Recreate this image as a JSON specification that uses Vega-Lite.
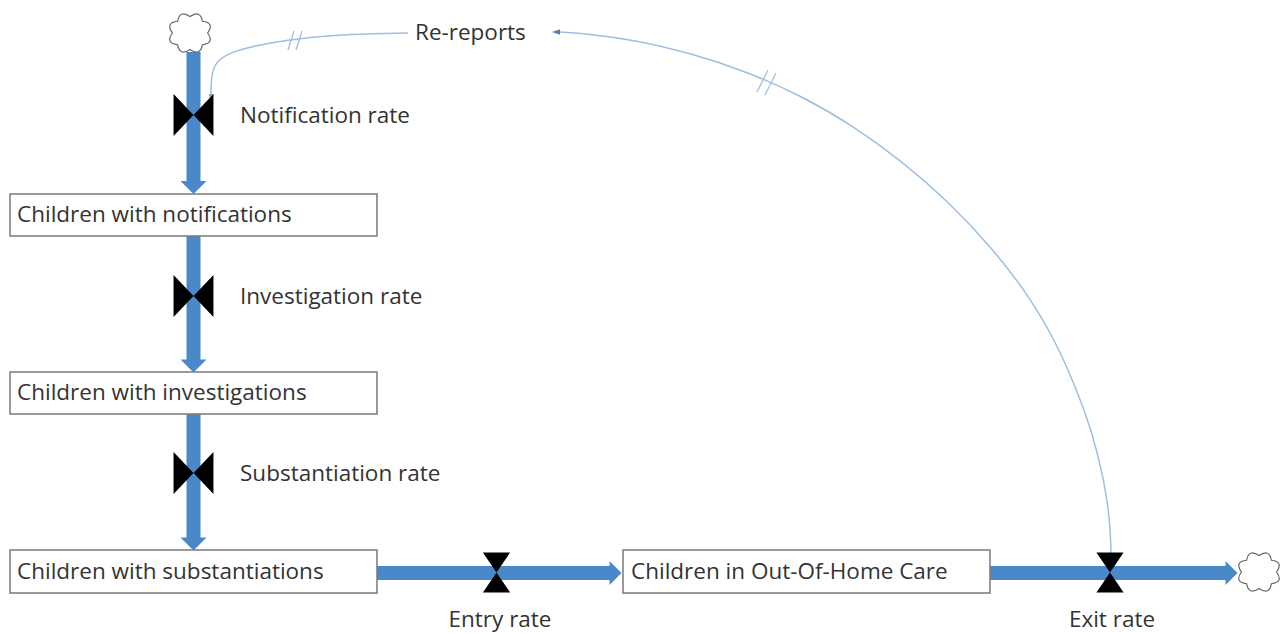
{
  "$schema": "https://vega.github.io/schema/vega-lite/v6.json",
  "width": 1287,
  "height": 633,
  "autosize": {"type": "fit", "contains": "padding"},
  "padding": 0,
  "background": "white",
  "config": {"view": {"stroke": null}},
  "datasets": {
    "boxes": [
      {"name": "Children with notifications", "x": 10, "x2": 377, "y": 194, "y2": 236},
      {"name": "Children with investigations", "x": 10, "x2": 377, "y": 372, "y2": 414},
      {"name": "Children with substantiations", "x": 10, "x2": 377, "y": 550, "y2": 593},
      {"name": "Children in Out-Of-Home Care", "x": 623, "x2": 990, "y": 550, "y2": 593}
    ],
    "pipes": [
      {"seg": "notification", "x": 193.5, "y": 52, "x2": 193.5, "y2": 182},
      {"seg": "investigation", "x": 193.5, "y": 236, "x2": 193.5, "y2": 361},
      {"seg": "substantiation", "x": 193.5, "y": 414, "x2": 193.5, "y2": 539},
      {"seg": "entry", "x": 377, "y": 573, "x2": 610, "y2": 573},
      {"seg": "exit", "x": 990, "y": 573, "x2": 1226, "y2": 573}
    ],
    "headsDown": [
      {"seg": "notification", "x": 193.5, "y": 187.5},
      {"seg": "investigation", "x": 193.5, "y": 366},
      {"seg": "substantiation", "x": 193.5, "y": 544}
    ],
    "headsRight": [
      {"seg": "entry", "x": 615.5, "y": 573},
      {"seg": "exit", "x": 1231.5, "y": 573}
    ],
    "valvesV": [
      {"rate": "Notification rate", "x": 193.5, "y": 115},
      {"rate": "Investigation rate", "x": 193.5, "y": 296},
      {"rate": "Substantiation rate", "x": 193.5, "y": 473}
    ],
    "valvesH": [
      {"rate": "Entry rate", "x": 496.5, "y": 572.5},
      {"rate": "Exit rate", "x": 1110, "y": 572.5}
    ],
    "clouds": [
      {"c": "source", "x": 190, "y": 33},
      {"c": "sink", "x": 1259, "y": 572}
    ],
    "links": [
      {"link": "exit-rereports", "i": 0, "x": 1111, "y": 553},
      {"link": "exit-rereports", "i": 1, "x": 1110, "y": 520},
      {"link": "exit-rereports", "i": 2, "x": 1104, "y": 480},
      {"link": "exit-rereports", "i": 3, "x": 1093, "y": 435},
      {"link": "exit-rereports", "i": 4, "x": 1077, "y": 390},
      {"link": "exit-rereports", "i": 5, "x": 1055, "y": 340},
      {"link": "exit-rereports", "i": 6, "x": 1027, "y": 293},
      {"link": "exit-rereports", "i": 7, "x": 992, "y": 248},
      {"link": "exit-rereports", "i": 8, "x": 950, "y": 203},
      {"link": "exit-rereports", "i": 9, "x": 903, "y": 162},
      {"link": "exit-rereports", "i": 10, "x": 852, "y": 125},
      {"link": "exit-rereports", "i": 11, "x": 800, "y": 95},
      {"link": "exit-rereports", "i": 12, "x": 745, "y": 71},
      {"link": "exit-rereports", "i": 13, "x": 690, "y": 53},
      {"link": "exit-rereports", "i": 14, "x": 635, "y": 40},
      {"link": "exit-rereports", "i": 15, "x": 590, "y": 34},
      {"link": "exit-rereports", "i": 16, "x": 558, "y": 32},
      {"link": "rereports-notification", "i": 0, "x": 408, "y": 33},
      {"link": "rereports-notification", "i": 1, "x": 350, "y": 34},
      {"link": "rereports-notification", "i": 2, "x": 300, "y": 38},
      {"link": "rereports-notification", "i": 3, "x": 252, "y": 46},
      {"link": "rereports-notification", "i": 4, "x": 226, "y": 54},
      {"link": "rereports-notification", "i": 5, "x": 214, "y": 64},
      {"link": "rereports-notification", "i": 6, "x": 211, "y": 80},
      {"link": "rereports-notification", "i": 7, "x": 211, "y": 97}
    ],
    "hashes": [
      {"h": "a1", "x": 757, "y": 92, "x2": 768, "y2": 70},
      {"h": "a2", "x": 765, "y": 95, "x2": 776, "y2": 73},
      {"h": "b1", "x": 288, "y": 50, "x2": 294, "y2": 31},
      {"h": "b2", "x": 296, "y": 50, "x2": 302, "y2": 31}
    ],
    "linkHeadLeft": [{"x": 556, "y": 32}],
    "linkHeadDown": [{"x": 211, "y": 98}],
    "labelsLeft": [
      {"t": "Notification rate", "x": 240, "y": 116},
      {"t": "Investigation rate", "x": 240, "y": 297},
      {"t": "Substantiation rate", "x": 240, "y": 474},
      {"t": "Re-reports", "x": 415, "y": 33},
      {"t": "Children with notifications", "x": 17, "y": 215},
      {"t": "Children with investigations", "x": 17, "y": 393},
      {"t": "Children with substantiations", "x": 17, "y": 572},
      {"t": "Children in Out-Of-Home Care", "x": 631, "y": 572}
    ],
    "labelsCenter": [
      {"t": "Entry rate", "x": 500, "y": 620},
      {"t": "Exit rate", "x": 1112, "y": 620}
    ]
  },
  "encoding": {
    "x": {"field": "x", "type": "quantitative", "scale": {"domain": [0, 1287], "nice": false, "zero": false}, "axis": null},
    "y": {"field": "y", "type": "quantitative", "scale": {"domain": [0, 633], "reverse": true, "nice": false, "zero": false}, "axis": null}
  },
  "layer": [
    {
      "data": {"name": "links"},
      "mark": {"type": "line", "interpolate": "basis", "stroke": "#9dbfe0", "strokeWidth": 1.5},
      "encoding": {"detail": {"field": "link"}, "order": {"field": "i", "type": "quantitative"}}
    },
    {
      "data": {"name": "hashes"},
      "mark": {"type": "rule", "stroke": "#9dbfe0", "strokeWidth": 1.3},
      "encoding": {"x2": {"field": "x2"}, "y2": {"field": "y2"}}
    },
    {
      "data": {"name": "linkHeadLeft"},
      "mark": {"type": "point", "shape": "M-1,0L1,-0.7L1,0.7Z", "filled": true, "color": "#5a7fa8", "size": 64, "opacity": 1}
    },
    {
      "data": {"name": "linkHeadDown"},
      "mark": {"type": "point", "shape": "M-0.6,-1L0.6,-1L0,1Z", "filled": true, "color": "#7fa6cf", "size": 64, "opacity": 1}
    },
    {
      "data": {"name": "pipes"},
      "mark": {"type": "rule", "stroke": "#4a89c9", "strokeWidth": 14, "strokeCap": "butt"},
      "encoding": {"x2": {"field": "x2"}, "y2": {"field": "y2"}}
    },
    {
      "data": {"name": "headsDown"},
      "mark": {"type": "point", "shape": "M-1,-0.5L1,-0.5L0,0.5Z", "filled": true, "color": "#4a89c9", "size": 676, "opacity": 1}
    },
    {
      "data": {"name": "headsRight"},
      "mark": {"type": "point", "shape": "M-0.5,-1L-0.5,1L0.5,0Z", "filled": true, "color": "#4a89c9", "size": 576, "opacity": 1}
    },
    {
      "data": {"name": "boxes"},
      "mark": {"type": "rect", "fill": "white", "stroke": "#7a7a7a", "strokeWidth": 1.5},
      "encoding": {"x2": {"field": "x2"}, "y2": {"field": "y2"}}
    },
    {
      "data": {"name": "valvesV"},
      "mark": {"type": "point", "shape": "M-0.95,-1L0,0L-0.95,1ZM0.95,-1L0,0L0.95,1Z", "filled": true, "color": "#000000", "size": 1764, "opacity": 1}
    },
    {
      "data": {"name": "valvesH"},
      "mark": {"type": "point", "shape": "M-0.68,-1L0.68,-1L0,0ZM-0.68,1L0.68,1L0,0Z", "filled": true, "color": "#000000", "size": 1600, "opacity": 1}
    },
    {
      "data": {"name": "clouds"},
      "mark": {"type": "point", "shape": "M0.75,0Q1.06,0.44 0.53,0.5Q0.44,1 0,0.7Q-0.44,1 -0.53,0.5Q-1.06,0.44 -0.75,0Q-1.06,-0.44 -0.53,-0.5Q-0.44,-1 0,-0.7Q0.44,-1 0.53,-0.5Q1.06,-0.44 0.75,0Z", "filled": true, "fill": "white", "stroke": "#666666", "strokeWidth": 1.2, "size": 2200, "opacity": 1}
    },
    {
      "data": {"name": "labelsLeft"},
      "mark": {"type": "text", "align": "left", "baseline": "middle", "font": "Open Sans", "fontSize": 22.5, "color": "#333333"},
      "encoding": {"text": {"field": "t"}}
    },
    {
      "data": {"name": "labelsCenter"},
      "mark": {"type": "text", "align": "center", "baseline": "middle", "font": "Open Sans", "fontSize": 22.5, "color": "#333333"},
      "encoding": {"text": {"field": "t"}}
    }
  ]
}
